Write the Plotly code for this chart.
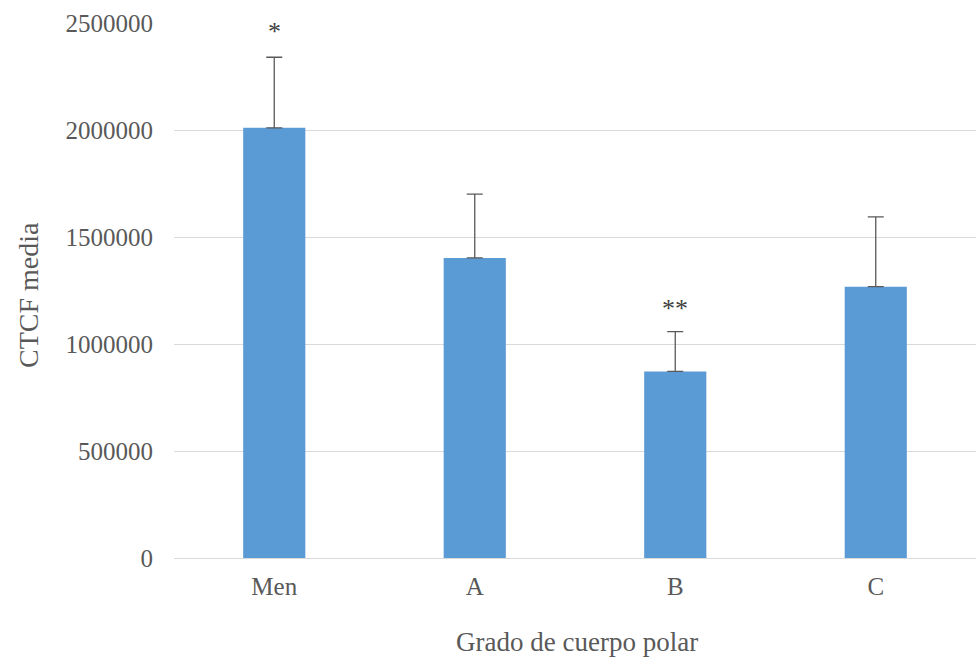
import plotly.graph_objects as go

categories = ["Men", "A", "B", "C"]
ctcf_mean = [2010000, 1402000, 872000, 1268000]
ctcf_err = [330000, 298000, 186000, 326000]
y_ticks = [0, 500000, 1000000, 1500000, 2000000, 2500000]
sig_labels = ["*", "", "**", ""]
sig_y = [2460000, None, 1165000, None]

FONT = "Liberation Serif"
GRAY = "#595959"

fig = go.Figure()
fig.add_trace(go.Bar(
    x=categories, y=ctcf_mean,
    marker=dict(color="#5B9BD5", line=dict(width=0)),
    width=0.31,
    error_y=dict(type="data", array=ctcf_err, symmetric=False, arrayminus=[0]*4,
                 color="#595959", thickness=1.3, width=8),
))

for c, lab, yy in zip(categories, sig_labels, sig_y):
    if lab:
        fig.add_annotation(x=c, y=yy, text=lab, showarrow=False,
                           font=dict(family=FONT, size=26, color="#404040"),
                           yanchor="middle")

# x-axis title
fig.add_annotation(x=0.5025, xref="paper", y=-0.157, yref="paper",
                   xanchor="center", yanchor="middle",
                   text="Grado de cuerpo polar", showarrow=False,
                   font=dict(family=FONT, size=27, color=GRAY))
# y-axis title
fig.add_annotation(x=(29 - 174) / 802, xref="paper", y=0.4916, yref="paper",
                   xanchor="center", yanchor="middle", textangle=-90,
                   text="CTCF media", showarrow=False,
                   font=dict(family=FONT, size=28, color=GRAY))

fig.update_layout(
    width=976, height=659,
    margin=dict(l=174, r=0, t=23, b=101),
    paper_bgcolor="white", plot_bgcolor="white",
    showlegend=False,
    font=dict(family=FONT, size=25, color=GRAY),
    xaxis=dict(showgrid=False, showline=False, ticks="", tickfont=dict(size=25),
               ticklabelstandoff=11),
    yaxis=dict(range=[0, 2500000], tickvals=y_ticks, ticktext=[str(v) for v in y_ticks],
               showgrid=True, gridcolor="#D9D9D9", gridwidth=1,
               zeroline=True, zerolinecolor="#D9D9D9", zerolinewidth=1,
               showline=False, ticks="", ticklabelstandoff=20,
               tickfont=dict(size=25)),
)

fig.write_html("out.html", config={"displayModeBar": False},
               post_script="document.body.style.margin='0';")
